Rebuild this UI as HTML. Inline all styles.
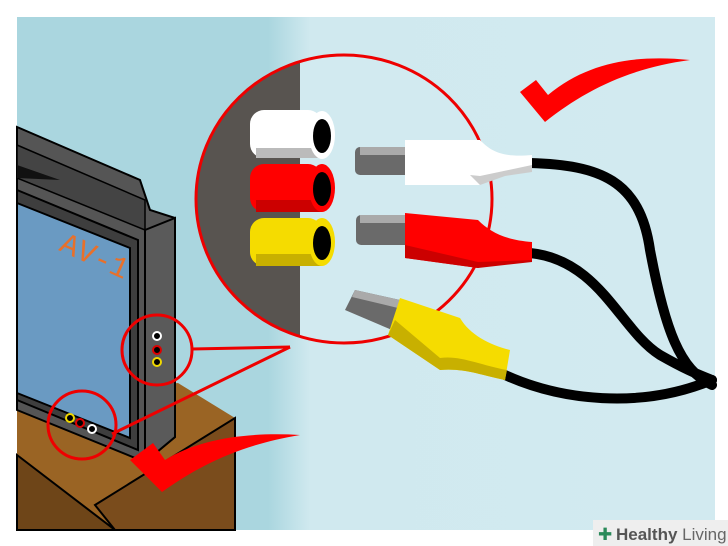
<!DOCTYPE html>
<html><head><style>html,body{margin:0;padding:0;background:#fff}svg{display:block}</style></head><body>
<svg width="728" height="546" viewBox="0 0 728 546" xmlns="http://www.w3.org/2000/svg">
<defs>
<linearGradient id="bg" x1="0" x2="1" y1="0" y2="0">
<stop offset="0" stop-color="#aad6df"/><stop offset="0.36" stop-color="#aad6df"/><stop offset="0.42" stop-color="#d0e9ef"/><stop offset="1" stop-color="#d2eaf0"/>
</linearGradient>
<clipPath id="cc"><ellipse cx="344" cy="199" rx="148" ry="144"/></clipPath>
</defs>
<rect x="17" y="17" width="698" height="513" fill="url(#bg)"/>
<!-- cabinet -->
<polygon points="17,400 178,383 235,418 235,530 17,530" fill="#9a6424"/>
<polygon points="17,455 115,530 17,530" fill="#6e4518" stroke="#000" stroke-width="2"/>
<polygon points="95,505 235,418 235,530 115,530" fill="#7a4c1c" stroke="#000" stroke-width="2"/>
<!-- TV -->
<polygon points="17,127 140,180 150,210 175,218 175,437 145,462 17,410" fill="#555" stroke="#000" stroke-width="2"/>
<polygon points="17,145 145,200 145,230 17,178" fill="#444" stroke="#000" stroke-width="1.5"/>
<polygon points="17,165 60,180 17,178" fill="#111"/>
<polygon points="145,230 175,218 175,437 145,462" fill="#5a5a5a" stroke="#000" stroke-width="2"/>
<polygon points="17,190 138,240 138,450 17,400" fill="#3e3e3e" stroke="#000" stroke-width="2"/>
<polygon points="17,203 130,248 130,438 17,393" fill="#6a9ac2" stroke="#000" stroke-width="2"/>
<text x="58" y="250" font-family="Liberation Mono, monospace" font-size="30" fill="#e8702a" transform="rotate(24 58 250)">AV-1</text>
<circle cx="157" cy="336" r="4" fill="#000" stroke="#fff" stroke-width="2"/>
<circle cx="157" cy="350" r="4" fill="#000" stroke="#d00" stroke-width="2"/>
<circle cx="157" cy="362" r="4" fill="#000" stroke="#f0d800" stroke-width="2"/>
<circle cx="70" cy="418" r="4" fill="#000" stroke="#f0d800" stroke-width="2"/>
<circle cx="80" cy="423" r="4" fill="#000" stroke="#d00" stroke-width="2"/>
<circle cx="92" cy="429" r="4" fill="#000" stroke="#fff" stroke-width="2"/>
<!-- callouts -->
<circle cx="157" cy="350" r="35" fill="none" stroke="#e00" stroke-width="3"/>
<circle cx="82" cy="425" r="34" fill="none" stroke="#e00" stroke-width="3"/>
<line x1="192" y1="349" x2="290" y2="347" stroke="#e00" stroke-width="3"/>
<line x1="112" y1="434" x2="290" y2="347" stroke="#e00" stroke-width="3"/>
<!-- big circle -->
<g clip-path="url(#cc)">
<rect x="190" y="50" width="110" height="300" fill="#585450"/>
<rect x="300" y="50" width="200" height="300" fill="#d2eaf0"/>
</g>
<ellipse cx="344" cy="199" rx="148" ry="144" fill="none" stroke="#e00" stroke-width="3"/>
<!-- jacks -->
<g>
<rect x="250" y="110" width="72" height="48" rx="14" fill="#fff"/><rect x="256" y="148" width="66" height="10" fill="#bbb"/>
<ellipse cx="322" cy="135" rx="13" ry="24" fill="#fff"/><ellipse cx="322" cy="136" rx="9" ry="17" fill="#000"/>
<rect x="250" y="164" width="72" height="48" rx="14" fill="#f00"/><rect x="256" y="200" width="66" height="12" fill="#c00"/>
<ellipse cx="322" cy="188" rx="13" ry="24" fill="#f00"/><ellipse cx="322" cy="189" rx="9" ry="17" fill="#000"/>
<rect x="250" y="218" width="72" height="48" rx="14" fill="#f5dc00"/><rect x="256" y="254" width="66" height="12" fill="#c8b000"/>
<ellipse cx="322" cy="242" rx="13" ry="24" fill="#f5dc00"/><ellipse cx="322" cy="243" rx="9" ry="17" fill="#000"/>
</g>
<!-- cables -->
<g fill="none" stroke="#000" stroke-width="10" stroke-linecap="round">
<path d="M530,163 C600,165 640,180 650,250 C665,330 680,370 712,385"/>
<path d="M530,253 C600,260 620,330 660,355 C690,372 700,375 712,380"/>
<path d="M505,375 C560,400 640,410 712,380"/>
</g>
<!-- white plug -->
<rect x="355" y="147" width="55" height="28" rx="5" fill="#6a6a6a"/><rect x="360" y="147" width="50" height="8" fill="#aaa"/>
<path d="M405,140 L480,140 C490,150 500,158 532,155 L532,172 C500,172 490,180 480,185 L405,185 Z" fill="#fff"/>
<path d="M470,175 L480,185 L505,176 L532,172 L532,165 L480,176 Z" fill="#ccc"/>
<!-- red plug -->
<rect x="356" y="215" width="55" height="30" rx="5" fill="#6a6a6a"/><rect x="360" y="215" width="50" height="8" fill="#aaa"/>
<path d="M405,213 L478,220 C490,232 505,240 532,242 L532,262 C505,262 490,262 478,268 L405,258 Z" fill="#f00"/>
<path d="M405,245 L478,262 L532,260 L532,262 L478,268 L405,258 Z" fill="#c00"/>
<!-- yellow plug -->
<polygon points="355,290 400,300 392,330 345,310" fill="#6a6a6a"/>
<polygon points="355,290 400,300 398,308 352,297" fill="#aaa"/>
<path d="M400,298 L460,318 C470,335 490,345 510,350 L505,380 C480,375 465,368 440,370 L388,335 Z" fill="#f5dc00"/>
<path d="M388,335 L440,370 C465,368 480,375 505,380 L507,370 C480,365 460,355 440,358 L395,320 Z" fill="#c8b000"/>
<!-- checks -->
<path d="M520,92 L536,80 L548,95 C590,60 640,55 690,60 C630,68 585,90 545,122 Z" fill="#f00"/>
<path d="M130,460 L153,443 L165,460 C200,438 250,432 300,435 C240,445 200,465 162,492 Z" fill="#f00"/>
<!-- watermark -->
<rect x="593" y="520" width="135" height="26" fill="#eee"/>
<text x="598" y="540" font-family="Liberation Sans, sans-serif" font-size="17" fill="#2a8a5a">✚</text>
<text x="616" y="540" font-family="Liberation Sans, sans-serif" font-size="17"><tspan font-weight="bold" fill="#555">Healthy</tspan><tspan fill="#666"> Living</tspan></text>
</svg>
</body></html>
